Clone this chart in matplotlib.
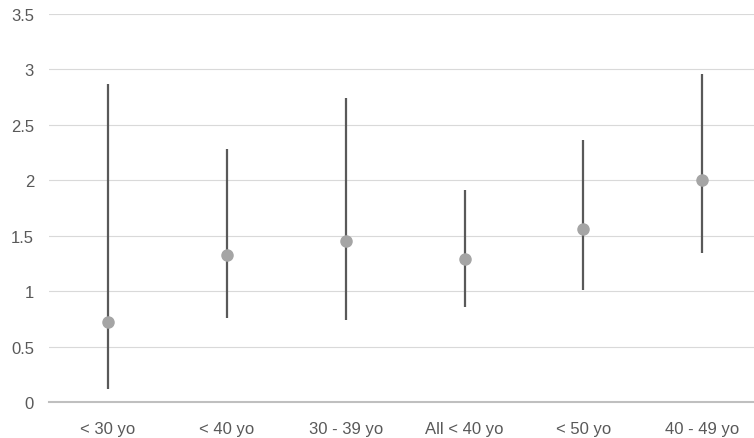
import matplotlib.pyplot as plt
import numpy as np

categories = ['< 30 yo', '< 40 yo', '30 - 39 yo', 'All < 40 yo', '< 50 yo', '40 - 49 yo']
estimate = [0.72, 1.33, 1.45, 1.29, 1.56, 2.00]
lower = [0.12, 0.76, 0.74, 0.86, 1.01, 1.34]
upper = [2.87, 2.28, 2.74, 1.91, 2.36, 2.96]
yticks = [0, 0.5, 1, 1.5, 2, 2.5, 3, 3.5]
ytick_labels = ['0', '0.5', '1', '1.5', '2', '2.5', '3', '3.5']

plt.rcParams['font.family'] = ['Liberation Sans', 'DejaVu Sans']

W, H = 754, 439
fig = plt.figure(figsize=(W / 100, H / 100), dpi=100)
ax = fig.add_axes([48.6 / W, 36 / H, 713 / W, 388 / H])

x = np.arange(len(categories))
# vertical range lines
ax.vlines(x, lower, upper, color='#595959', linewidth=1.6, zorder=3)
ax.plot(x, estimate, 'o', color='#A5A5A5', markersize=8, zorder=4)

ax.set_xlim(-0.5, len(categories) - 0.5)
ax.set_ylim(0, 3.5)
ax.set_yticks(yticks)
ax.set_yticklabels(ytick_labels)
ax.set_xticks(x)
ax.set_xticklabels(categories)

ax.grid(axis='y', color='#D9D9D9', linewidth=0.8, zorder=0)
for s in ['top', 'right', 'left']:
    ax.spines[s].set_visible(False)
ax.spines['bottom'].set_color('#BFBFBF')
ax.spines['bottom'].set_linewidth(1.5)
ax.spines['bottom'].set_zorder(2)
ax.tick_params(axis='both', length=0, colors='#595959', labelsize=12)
ax.tick_params(axis='y', pad=10.5)
ax.tick_params(axis='x', pad=14)

fig.savefig('out.png', dpi=100)
